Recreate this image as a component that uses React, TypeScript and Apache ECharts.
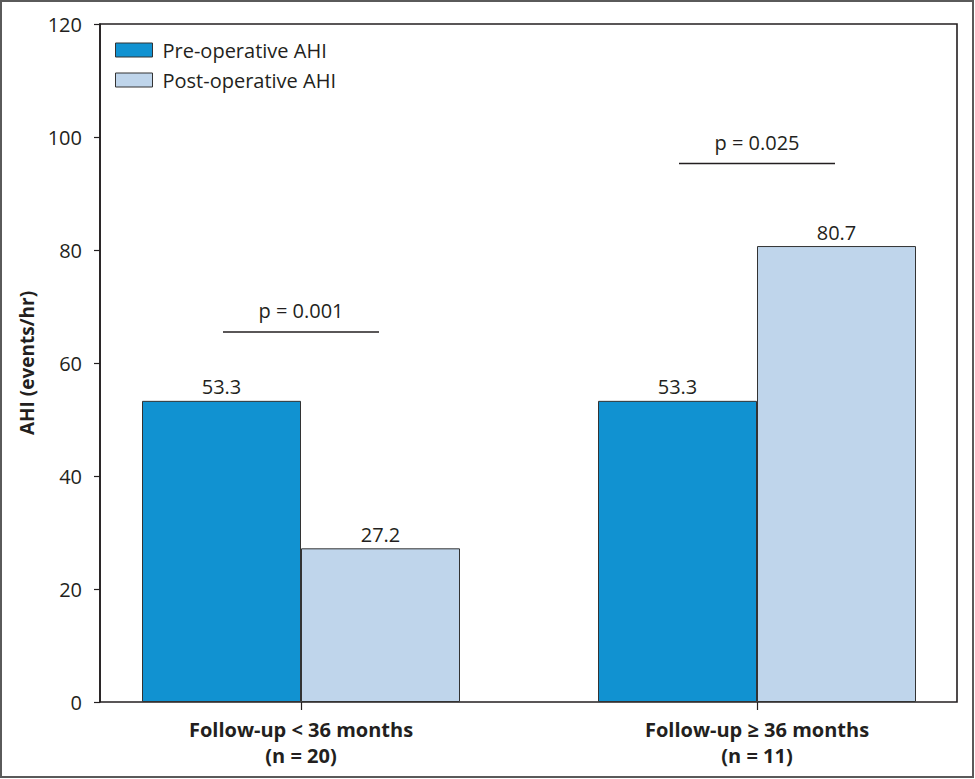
import React, { useEffect, useRef } from "react";
import * as echarts from "echarts";

const categories = ["Follow-up < 36 months\n(n = 20)", "Follow-up ≥ 36 months\n(n = 11)"];
const preOp = [53.3, 53.3];
const postOp = [27.2, 80.7];
const pTexts = ["p = 0.001", "p = 0.025"];
const pLevels = [65.5, 95.3];
const seriesNames = ["Pre-operative AHI", "Post-operative AHI"];
const yAxisName = "AHI (events/hr)";

const FONT = "'Open Sans', sans-serif";
const INK = "#231f20";

export default function App() {
  const ref = useRef<HTMLDivElement>(null);
  useEffect(() => {
    const chart = echarts.init(ref.current!, undefined, { renderer: "svg" });
    chart.setOption({
      animation: false,
      backgroundColor: "#ffffff",
      textStyle: { fontFamily: FONT, color: INK },
      graphic: [
        {
          type: "rect",
          shape: { x: 1, y: 1, width: 972, height: 776 },
          style: { fill: "none", stroke: "#5a5a5a", lineWidth: 2 },
          silent: true,
        },
      ],
      legend: {
        data: seriesNames,
        orient: "vertical",
        left: 115,
        top: 40,
        padding: 0,
        itemWidth: 37,
        itemHeight: 14,
        itemGap: 10,
        icon: "rect",
        itemStyle: { borderColor: "#333", borderWidth: 1 },
        textStyle: { fontFamily: FONT, fontSize: 20, color: INK, padding: [0, 0, 0, 5] },
      },
      grid: [
        { left: 100, top: 24, width: 857, height: 678, show: true, borderColor: INK, borderWidth: 1.6, backgroundColor: "transparent" },
        { left: 73, top: 24, width: 912, height: 678 },
      ],
      xAxis: [
        { gridIndex: 0, type: "category", data: categories, show: false },
        {
          gridIndex: 1,
          type: "category",
          data: categories,
          axisLine: { show: false },
          axisTick: { show: true, alignWithLabel: true, length: 8, lineStyle: { color: INK, width: 1.2 } },
          axisLabel: {
            margin: 14,
            fontFamily: FONT,
            fontWeight: "bold",
            fontSize: 20,
            lineHeight: 26,
            color: INK,
          },
        },
      ],
      yAxis: [
        {
          gridIndex: 0,
          type: "value",
          min: 0,
          max: 120,
          interval: 20,
          name: yAxisName,
          nameLocation: "middle",
          nameRotate: 90,
          nameGap: 63,
          nameTextStyle: { fontFamily: FONT, fontWeight: "bold", fontSize: 19, color: INK },
          axisLine: { show: true, lineStyle: { color: INK, width: 1.6 } },
          axisTick: { show: true, length: 6, lineStyle: { color: INK, width: 1.2 } },
          axisLabel: { fontFamily: FONT, fontSize: 20, color: INK, margin: 18 },
          splitLine: { show: false },
        },
        { gridIndex: 1, type: "value", min: 0, max: 120, interval: 20, show: false, splitLine: { show: false } },
      ],
      series: [
        {
          name: seriesNames[0],
          type: "bar",
          xAxisIndex: 1,
          yAxisIndex: 1,
          data: preOp,
          barWidth: 159,
          barGap: "0%",
          itemStyle: { color: "#1192d1", borderColor: "#333", borderWidth: 1 },
          label: { show: true, position: "top", distance: 4, fontFamily: FONT, fontSize: 20, color: INK, formatter: (p: any) => p.value.toFixed(1) },
        },
        {
          name: seriesNames[1],
          type: "bar",
          xAxisIndex: 1,
          yAxisIndex: 1,
          data: postOp,
          barWidth: 159,
          barGap: "0%",
          itemStyle: { color: "#bfd5eb", borderColor: "#333", borderWidth: 1 },
          label: { show: true, position: "top", distance: 4, fontFamily: FONT, fontSize: 20, color: INK, formatter: (p: any) => p.value.toFixed(1) },
        },
        {
          type: "custom",
          xAxisIndex: 1,
          yAxisIndex: 1,
          data: pLevels.map((v, i) => [i, v]),
          renderItem: (params: any, api: any) => {
            const pt = api.coord([api.value(0), api.value(1)]);
            return {
              type: "group",
              children: [
                {
                  type: "line",
                  shape: { x1: pt[0] - 78, y1: pt[1], x2: pt[0] + 78, y2: pt[1] },
                  style: { stroke: INK, lineWidth: 1.4 },
                },
                {
                  type: "text",
                  style: {
                    text: pTexts[params.dataIndex],
                    x: pt[0],
                    y: pt[1] - 11,
                    align: "center",
                    verticalAlign: "bottom",
                    fontFamily: FONT,
                    fontSize: 20,
                    fill: INK,
                  },
                },
              ],
            };
          },
        },
      ],
    });
    return () => chart.dispose();
  }, []);
  return (
    <div style={{ position: "absolute", left: 0, top: 0, width: 975, height: 779, overflow: "hidden" }}>
      <div ref={ref} style={{ width: 1000, height: 779 }} />
    </div>
  );
}
